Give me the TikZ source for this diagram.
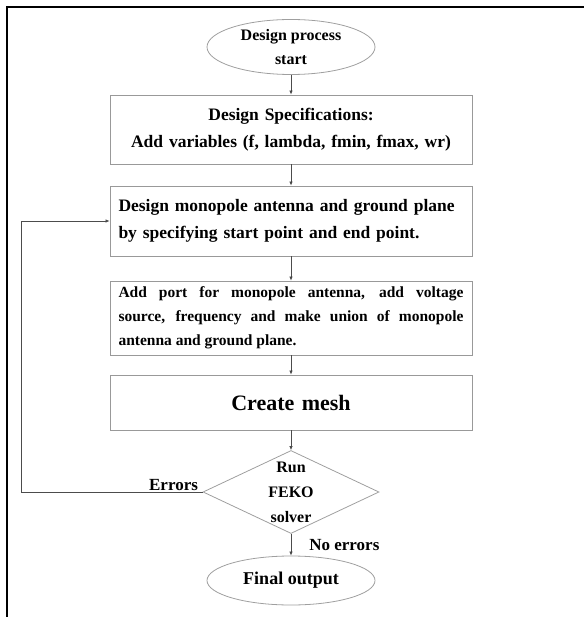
\documentclass[tikz,border=0pt]{standalone}
\usepackage{fontspec}
\setmainfont{Liberation Serif}
\usetikzlibrary{shapes.geometric,arrows.meta}
\tikzset{
  box/.style={draw=gray!80,line width=0.8pt,minimum width=362pt,text width=345pt,inner sep=0pt},
  term/.style={ellipse,draw=gray!75,line width=0.8pt,minimum width=168pt,inner sep=0pt,align=center},
  flow/.style={draw=black!70,line width=0.7pt,-{Latex[length=4pt,width=3.5pt]}},
  lbl/.style={font=\fontsize{17}{19}\selectfont\bfseries,inner sep=1pt}
}
\begin{document}
\begin{tikzpicture}[x=1pt,y=-1pt]
    \useasboundingbox (0,0) rectangle (584,617);
    \draw[line width=2pt] (7,617) -- (7,7) -- (584,7);
    \node[term,minimum height=55pt,font=\fontsize{16}{24}\selectfont\bfseries] (start) at (291,47) {Design process\\start};
    \node[box,minimum height=69pt,align=center,font=\fontsize{17.5}{27}\selectfont\bfseries] (spec) at (291,129.5) {Design Specifications:\\Add variables (f, lambda, fmin, fmax, wr)};
    \node[box,minimum height=70pt,align=left,font=\fontsize{17.5}{27}\selectfont\bfseries] (design) at (291,221) {Design monopole antenna and ground plane\\by specifying start point and end point.};
    \node[box,minimum height=74pt,align=justify,font=\fontsize{15.5}{24}\selectfont\bfseries] (port) at (291,318) {Add port for monopole antenna, add voltage\linebreak source, frequency and make union of monopole\linebreak antenna and ground plane.};
    \node[box,minimum height=55pt,align=center,font=\fontsize{22}{26}\selectfont\bfseries] (mesh) at (291,402.5) {Create mesh};
    \node[diamond,draw=gray!75,line width=0.8pt,minimum width=176pt,minimum height=83pt,inner sep=0pt] (solver) at (291,492) {};
    \node[align=center,font=\fontsize{16}{25}\selectfont\bfseries] (solvertext) at (solver) {Run\\FEKO\\solver};
    \node[term,minimum height=49pt,font=\fontsize{18}{20}\selectfont\bfseries] (final) at (291,580.5) {Final output};
    \coordinate (back) at (21,492);
    \path[flow] (start) edge (spec)
      (spec) edge (design)
      (design) edge (port)
      (port) edge (mesh)
      (mesh) edge (solver)
      (solver) edge node[lbl,right=17pt] {No errors} (final);
    \draw[flow] (solver.west) -- node[lbl,above,pos=0.16] {Errors} (back) |- (design.west);
\end{tikzpicture}
\end{document}
